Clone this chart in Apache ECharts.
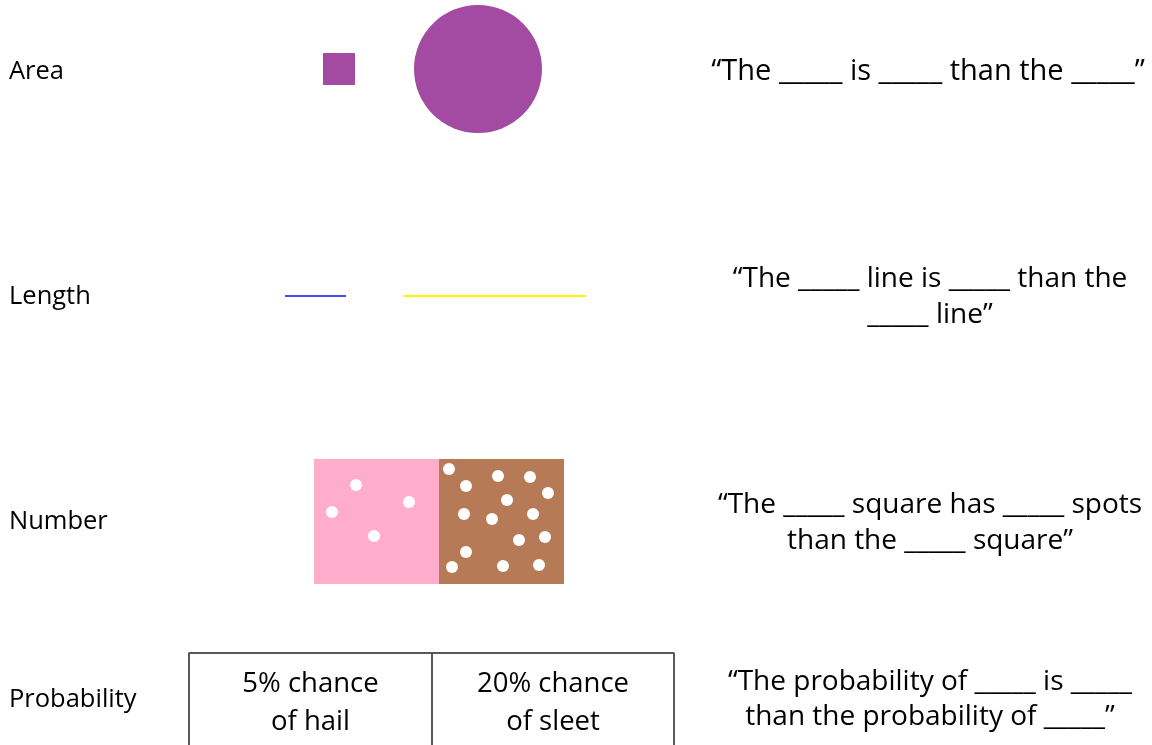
<!DOCTYPE html>
<html>
<head>
<meta charset="utf-8">
<script src="https://cdn.jsdelivr.net/npm/echarts@6/dist/echarts.min.js"></script>
<style>
html,body{margin:0;padding:0;background:#fff;}
#chart{width:1152px;height:745px;}
</style>
</head>
<body>
<div id="chart"></div>
<script>
// ---- data ----
const categories = ['Area', 'Length', 'Number', 'Probability'];
const categoryY = [72, 297, 522, 700];

// Area: small square (side) vs big circle (diameter)
const areaSquare = [323, 53, 355, 85];       // x0, y0, x1, y1
const areaCircle = [478, 69, 64];            // cx, cy, r

// Length: short blue line vs long yellow line
const blueLine = [[285, 296], [346, 296]];
const yellowLine = [[403, 296], [586, 296]];

// Number: pink square (few spots) vs brown square (many spots)
const pinkSquare = [314, 459, 439, 584];
const brownSquare = [439, 459, 564, 584];
const pinkSpots = [[356, 485], [409, 502], [332, 512], [374, 536]];
const brownSpots = [
  [449, 469], [498, 476], [530, 477], [466, 486], [548, 493],
  [507, 500], [464, 514], [492, 519], [533, 514], [545, 537],
  [519, 540], [466, 552], [452, 567], [503, 566], [539, 565]
];

// Probability table
const probabilities = [5, 20];
const events = ['hail', 'sleet'];
const tableX = [189, 432, 674];
const tableTop = 653;
const tableTextY = [684, 722];

// Prompts
const prompts = [
  ['\u201cThe _____ is _____ than the _____\u201d'],
  ['\u201cThe _____ line is _____ than the', '_____ line\u201d'],
  ['\u201cThe _____ square has _____ spots', 'than the _____ square\u201d'],
  ['\u201cThe probability of _____ is _____', 'than the probability of _____\u201d']
];
const promptX = [928, 930, 930, 930];
const promptY = [[72], [279, 315], [505, 541], [682, 717]];

// ---- build ----
const FONT = '"Open Sans", "Liberation Sans", sans-serif';
const texts = [];
categories.forEach((c, i) => texts.push([9, categoryY[i], c, 25.5, 'left']));
prompts.forEach((lines, i) => lines.forEach((t, j) => texts.push([promptX[i], promptY[i][j], t, i === 0 ? 29 : 28, 'center'])));
probabilities.forEach((p, i) => {
  const cx = (tableX[i] + tableX[i + 1]) / 2;
  texts.push([cx, tableTextY[0], p + '% chance', 27.5, 'center']);
  texts.push([cx, tableTextY[1], 'of ' + events[i], 27.5, 'center']);
});

const rects = [
  areaSquare.concat(['#A34BA2']),
  pinkSquare.concat(['#FFADCA']),
  brownSquare.concat(['#B77A56'])
];

const chart = echarts.init(document.getElementById('chart'));
chart.setOption({
  animation: false,
  backgroundColor: '#ffffff',
  grid: { left: 0, top: 0, right: 0, bottom: 0 },
  xAxis: { type: 'value', min: 0, max: 1152, show: false },
  yAxis: { type: 'value', min: 0, max: 745, inverse: true, show: false },
  series: [
    {
      type: 'custom',
      data: rects,
      renderItem: function (params, api) {
        const p0 = api.coord([api.value(0), api.value(1)]);
        const p1 = api.coord([api.value(2), api.value(3)]);
        return {
          type: 'rect',
          shape: { x: p0[0], y: p0[1], width: p1[0] - p0[0], height: p1[1] - p0[1] },
          style: { fill: rects[params.dataIndex][4] }
        };
      }
    },
    {
      type: 'custom',
      data: [areaCircle],
      renderItem: function (params, api) {
        const c = api.coord([api.value(0), api.value(1)]);
        const r = api.size([api.value(2), api.value(2)])[0];
        return { type: 'circle', shape: { cx: c[0], cy: c[1], r: r }, style: { fill: '#A34BA2' } };
      }
    },
    {
      type: 'line', data: blueLine, symbol: 'none',
      lineStyle: { color: '#4B4FE0', width: 2 }
    },
    {
      type: 'line', data: yellowLine, symbol: 'none',
      lineStyle: { color: '#FFF500', width: 2 }
    },
    {
      type: 'scatter', data: pinkSpots.concat(brownSpots), symbol: 'circle', symbolSize: 12,
      itemStyle: { color: '#ffffff', opacity: 1 }
    },
    {
      type: 'line', data: [[tableX[0], 760], [tableX[0], tableTop], [tableX[2], tableTop], [tableX[2], 760]],
      symbol: 'none', lineStyle: { color: '#595959', width: 2 }
    },
    {
      type: 'line', data: [[tableX[1], tableTop], [tableX[1], 760]],
      symbol: 'none', lineStyle: { color: '#595959', width: 2 }
    },
    {
      type: 'custom',
      data: texts,
      renderItem: function (params, api) {
        const d = texts[params.dataIndex];
        const p = api.coord([d[0], d[1]]);
        return {
          type: 'text',
          x: p[0], y: p[1],
          style: {
            text: d[2], fill: '#000000', fontSize: d[3], fontFamily: FONT,
            align: d[4], verticalAlign: 'middle'
          }
        };
      }
    }
  ]
});
</script>
</body>
</html>
